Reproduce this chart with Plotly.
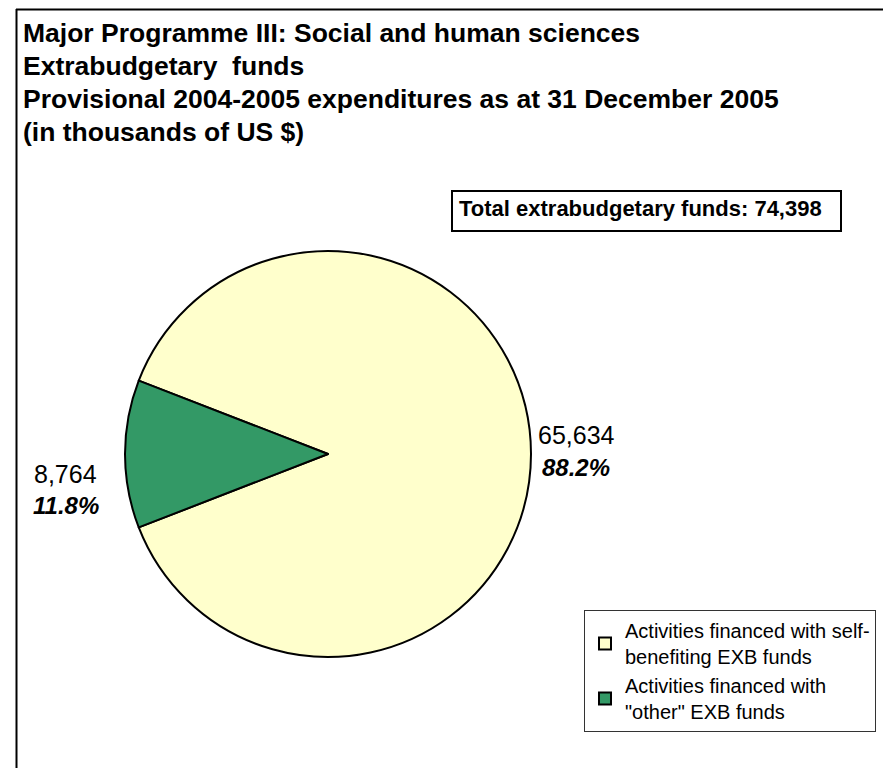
import plotly.graph_objects as go

# ---- data ----
categories = ["Activities financed with self-<br>benefiting EXB funds",
              "Activities financed with<br>\"other\" EXB funds"]
values = [65634, 8764]
colors = ["#FFFFCC", "#339966"]
title_lines = ["Major Programme III: Social and human sciences",
               "Extrabudgetary  funds",
               "Provisional 2004-2005 expenditures as at 31 December 2005",
               "(in thousands of US $)"]
total_label = "Total extrabudgetary funds: "

W, H = 891, 768
FONT = "Liberation Sans, Arial, sans-serif"

total = sum(values)
pct = [v / total * 100 for v in values]
# centre the small slice at 9 o'clock
rotation = 270 + 180 * values[1] / total

# pie geometry (pixels)
cx, cy, r = 320, 446, 203

def px(x):
    return x / W

def py(y):
    return 1 - y / H

fig = go.Figure()
fig.add_trace(go.Pie(
    labels=categories, values=values, sort=False, direction="clockwise",
    rotation=rotation,
    marker=dict(colors=colors, line=dict(color="black", width=2)),
    textinfo="none", hoverinfo="label+value+percent",
    domain=dict(x=[px(cx - r), px(cx + r)], y=[py(cy + r), py(cy - r)]),
))

ann = []
ys = [25, 58, 91, 124]
for t, y in zip(title_lines, ys):
    ann.append(dict(text="<b>%s</b>" % t, x=px(13), y=py(y), xref="paper", yref="paper",
                    xanchor="left", yanchor="middle", showarrow=False,
                    font=dict(family=FONT, size=26.5, color="black")))

ann.append(dict(text="<b>%s%s</b>" % (total_label, f"{total:,}"), x=px(449), y=py(200),
                xref="paper", yref="paper", xanchor="left", yanchor="middle",
                showarrow=False, font=dict(family=FONT, size=22, color="black")))

# data labels
label_pos = [(568, 427, 459), (58, 466, 497)]
for v, p, (lx, ly1, ly2) in zip(values, pct, label_pos):
    ann.append(dict(text=f"{v:,}", x=px(lx), y=py(ly1), xref="paper", yref="paper",
                    xanchor="center", yanchor="middle", showarrow=False,
                    font=dict(family=FONT, size=25, color="black")))
    ann.append(dict(text=f"<b><i>{p:.1f}%</i></b>", x=px(lx), y=py(ly2), xref="paper", yref="paper",
                    xanchor="center", yanchor="middle", showarrow=False,
                    font=dict(family=FONT, size=24, color="black")))

shapes = [
    # outer frame
    dict(type="line", xref="paper", yref="paper", x0=px(8.5), x1=px(8.5), y0=py(1), y1=py(766),
         line=dict(color="black", width=2)),
    dict(type="line", xref="paper", yref="paper", x0=px(8), x1=1, y0=py(1.5), y1=py(1.5),
         line=dict(color="black", width=2)),
    dict(type="line", xref="paper", yref="paper", x0=px(8), x1=1, y0=py(766.5), y1=py(766.5),
         line=dict(color="#CCCCCC", width=1)),
    # total box
    dict(type="rect", xref="paper", yref="paper", x0=px(444), x1=px(833), y0=py(223), y1=py(183),
         line=dict(color="black", width=2)),
]

fig.update_layout(
    width=W, height=H, margin=dict(l=0, r=0, t=0, b=0),
    paper_bgcolor="white", plot_bgcolor="white",
    annotations=ann, shapes=shapes,
    showlegend=True,
    legend=dict(x=px(576), y=py(602), xanchor="left", yanchor="top",
                bgcolor="white", bordercolor="#333333", borderwidth=1,
                font=dict(family=FONT, size=20, color="black"),
                traceorder="normal", itemwidth=30),
)

fig.write_html("out.html")
